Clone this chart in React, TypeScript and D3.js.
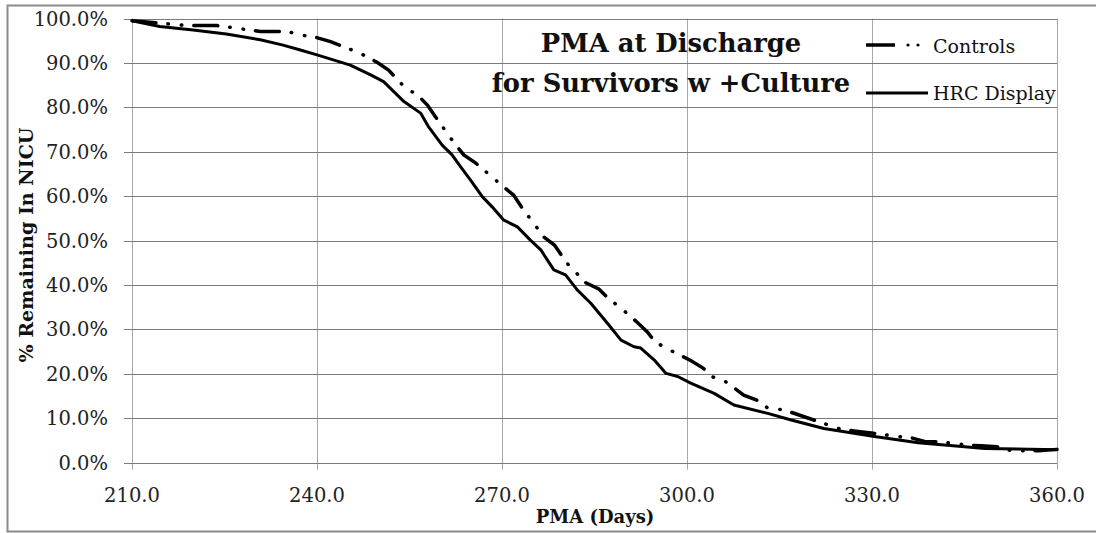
import { useEffect, useRef } from "react";
import * as d3 from "d3";

// PMA at discharge, % remaining in NICU
const controlsDays = [
  210.0, 219.1, 223.8, 230.8, 235.2, 237.3, 239.7, 242.2, 245.7, 247.5, 249.8,
  251.6, 254.3, 256.3, 257.9, 259.2, 261.3, 262.5, 263.8, 265.7, 268.5, 270.1,
  271.9, 273.3, 276.8, 278.5, 280.0, 280.8, 283.6, 285.7, 287.3, 289.3, 292.0,
  293.6, 294.8, 296.9, 300.6, 302.6, 304.2, 306.3, 309.2, 311.3, 313.1, 315.7,
  322.9, 325.0, 327.4, 329.9, 334.2, 336.4, 338.8, 341.2, 345.3, 347.7, 350.2,
  352.6, 357.0, 360.0,
];
const controlsPct = [
  99.5, 98.4, 98.4, 97.1, 97.1, 96.3, 95.8, 94.8, 92.9, 91.8, 90.1,
  88.4, 84.4, 82.8, 80.5, 77.9, 73.8, 71.5, 69.3, 67.5, 64.2, 62.3,
  60.2, 57.3, 50.8, 49.0, 46.0, 44.5, 40.5, 39.1, 36.9, 34.8, 31.5,
  29.4, 27.2, 25.6, 23.0, 21.3, 19.3, 18.2, 15.2, 14.1, 12.3, 11.9,
  8.5, 7.5, 7.1, 6.7, 5.9, 5.6, 4.7, 4.7, 4.0, 3.8, 3.6,
  2.7, 2.7, 3.0,
];

const hrcDays = [
  210.0, 214.5, 219.9, 225.3, 230.8, 234.5, 237.3, 240.0, 245.4, 248.7, 250.8,
  252.7, 254.1, 256.8, 258.1, 260.3, 261.9, 263.3, 264.9, 266.8, 268.4, 270.3,
  272.5, 274.6, 276.3, 278.4, 280.3, 282.2, 284.4, 287.1, 289.3, 291.4, 292.5,
  294.7, 296.6, 298.5, 300.6, 304.4, 307.6, 313.1, 316.9, 322.2, 330.4, 337.5,
  348.3, 360.0,
];
const hrcPct = [
  99.5, 98.2, 97.4, 96.5, 95.2, 94.0, 92.9, 91.8, 89.5, 87.3, 85.8,
  83.2, 81.3, 78.7, 75.6, 71.5, 69.3, 66.6, 63.6, 59.9, 57.6, 54.6,
  53.1, 50.1, 47.9, 43.4, 42.3, 38.9, 35.9, 31.4, 27.6, 26.1, 25.8,
  23.1, 20.1, 19.4, 17.9, 15.6, 13.0, 11.1, 9.6, 7.7, 5.9, 4.5,
  3.2, 2.9,
];

const xTicks = [210, 240, 270, 300, 330, 360];
const yTicks = [0, 10, 20, 30, 40, 50, 60, 70, 80, 90, 100];

const W = 1096;
const H = 533;
const serif = "'DejaVu Serif', serif";

export default function App() {
  const ref = useRef<SVGSVGElement>(null);

  useEffect(() => {
    const svg = d3.select(ref.current);
    svg.selectAll("*").remove();

    const x = d3.scaleLinear().domain([210, 360]).range([132, 1057]);
    const y = d3.scaleLinear().domain([0, 100]).range([462.7, 18.5]);

    // outer frame
    svg
      .append("path")
      .attr("d", `M${W + 2},5.5 H7.5 V531.5 H${W + 2}`)
      .attr("fill", "none")
      .attr("stroke", "#8a8a8a")
      .attr("stroke-width", 2);

    // grid
    svg
      .append("g")
      .selectAll("line")
      .data(xTicks)
      .enter()
      .append("line")
      .attr("x1", (d) => Math.round(x(d)) + 0.5)
      .attr("x2", (d) => Math.round(x(d)) + 0.5)
      .attr("y1", y(100))
      .attr("y2", y(0) + 7)
      .attr("stroke", "#a8a8a8")
      .attr("stroke-width", 1);

    svg
      .append("g")
      .selectAll("line")
      .data(yTicks)
      .enter()
      .append("line")
      .attr("x1", x(210) - 8)
      .attr("x2", x(360))
      .attr("y1", (d) => Math.round(y(d)) + 0.5)
      .attr("y2", (d) => Math.round(y(d)) + 0.5)
      .attr("stroke", "#7a7a7a")
      .attr("stroke-width", 1);

    // tick labels
    svg
      .append("g")
      .selectAll("text")
      .data(yTicks)
      .enter()
      .append("text")
      .attr("x", 108)
      .attr("y", (d) => y(d) + 7)
      .attr("text-anchor", "end")
      .style("font", `19.5px ${serif}`)
      .attr("fill", "#222")
      .text((d) => d.toFixed(1) + "%");

    svg
      .append("g")
      .selectAll("text")
      .data(xTicks)
      .enter()
      .append("text")
      .attr("x", (d) => x(d))
      .attr("y", 502)
      .attr("text-anchor", "middle")
      .style("font", `19.5px ${serif}`)
      .attr("fill", "#222")
      .text((d) => d.toFixed(1));

    // axis titles
    svg
      .append("text")
      .attr("x", 595)
      .attr("y", 523)
      .attr("text-anchor", "middle")
      .style("font", `bold 18px ${serif}`)
      .attr("fill", "#111")
      .text("PMA (Days)");

    svg
      .append("text")
      .attr("transform", "translate(33,245) rotate(-90)")
      .attr("text-anchor", "middle")
      .attr("textLength", 235)
      .attr("lengthAdjust", "spacingAndGlyphs")
      .style("font", `bold 19px ${serif}`)
      .attr("fill", "#111")
      .text("% Remaining In NICU");

    // series
    const line = d3
      .line<[number, number]>()
      .x((d) => x(d[0]))
      .y((d) => y(d[1]));

    const ctrl = controlsDays.map((d, i) => [d, controlsPct[i]] as [number, number]);
    const hrc = hrcDays.map((d, i) => [d, hrcPct[i]] as [number, number]);

    svg
      .append("path")
      .datum(ctrl)
      .attr("d", line)
      .attr("fill", "none")
      .attr("stroke", "#000")
      .attr("stroke-width", 3.5)
      .attr("stroke-linecap", "round")
      .attr("stroke-dasharray", "24 12 0.5 13 0.5 12");

    svg
      .append("path")
      .datum(hrc)
      .attr("d", line)
      .attr("fill", "none")
      .attr("stroke", "#000")
      .attr("stroke-width", 3)
      .attr("stroke-linejoin", "round");

    // title
    const title = svg
      .append("text")
      .attr("text-anchor", "middle")
      .style("font", `bold 25.8px ${serif}`)
      .attr("fill", "#111");
    title.append("tspan").attr("x", 671).attr("y", 52).text("PMA at Discharge");
    title.append("tspan").attr("x", 671).attr("y", 92).text("for Survivors w +Culture");

    // legend
    const lg = svg.append("g");
    lg.append("line")
      .attr("x1", 866).attr("x2", 895).attr("y1", 45).attr("y2", 45)
      .attr("stroke", "#000").attr("stroke-width", 3.5);
    [908, 918].forEach((cx) =>
      lg.append("circle").attr("cx", cx).attr("cy", 45).attr("r", 1.6).attr("fill", "#000")
    );
    lg.append("text")
      .attr("x", 933).attr("y", 53)
      .style("font", `19px ${serif}`)
      .attr("fill", "#111")
      .text("Controls");
    lg.append("line")
      .attr("x1", 866).attr("x2", 928).attr("y1", 93).attr("y2", 93)
      .attr("stroke", "#000").attr("stroke-width", 3);
    lg.append("text")
      .attr("x", 933).attr("y", 100)
      .style("font", `19px ${serif}`)
      .attr("fill", "#111")
      .text("HRC Display");
  }, []);

  return (
    <div style={{ position: "absolute", left: 0, top: 0 }}>
      <svg ref={ref} width={W} height={H} style={{ display: "block", background: "#fff" }} />
    </div>
  );
}
